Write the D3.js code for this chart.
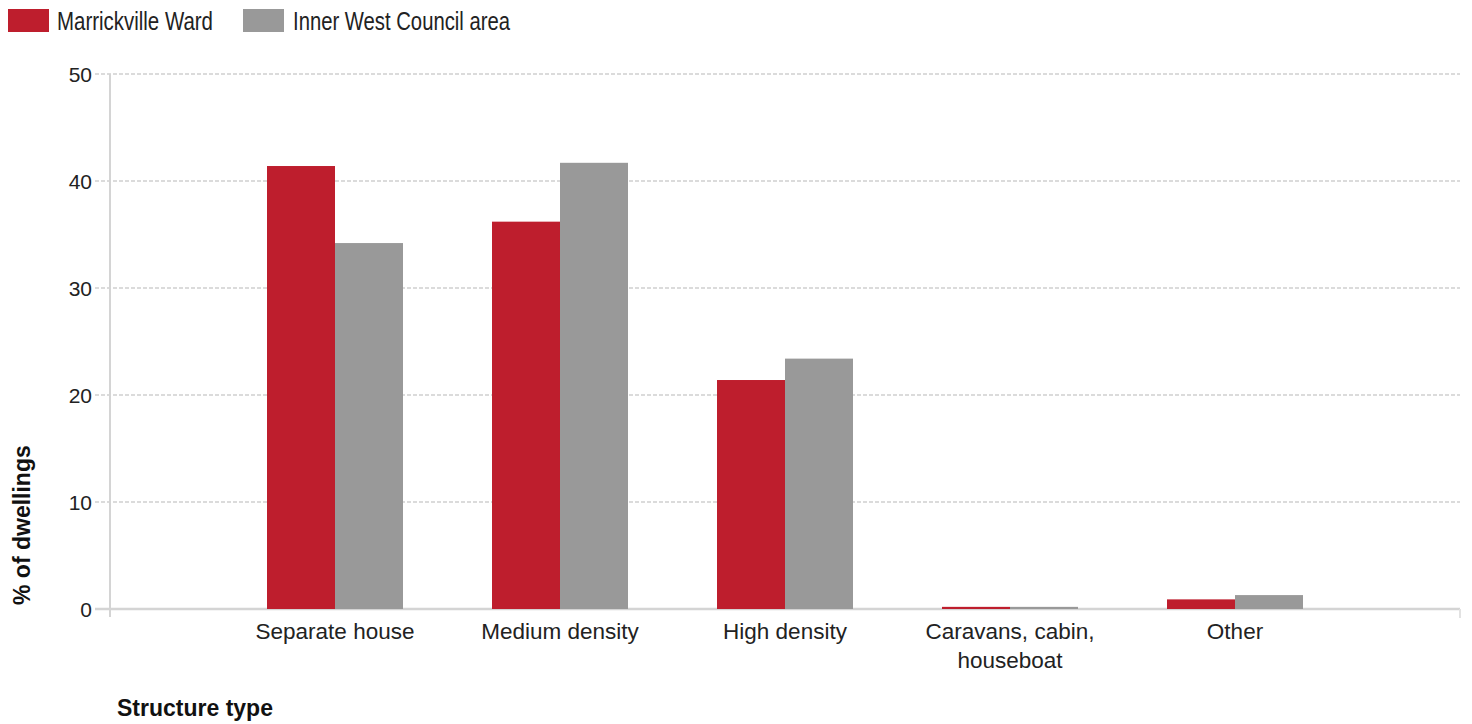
<!DOCTYPE html>
<html><head><meta charset="utf-8">
<script src="https://cdn.jsdelivr.net/npm/d3@7"></script>
<style>body{margin:0;background:#fff}svg{display:block;font-family:"Liberation Sans",Arial,sans-serif}</style>
</head><body><svg id="c" width="1472" height="724"></svg>
<script>
const categories = ["Separate house", "Medium density", "High density", "Caravans, cabin, houseboat", "Other"];
const seriesNames = ["Marrickville Ward", "Inner West Council area"];
const marrickville = [41.4, 36.2, 21.4, 0.2, 0.9];
const innerWest = [34.2, 41.7, 23.4, 0.2, 1.3];
const yTicks = [0, 10, 20, 30, 40, 50];
const colors = ["#be1e2d", "#999999"];

const svg = d3.select("#c");
const L = 110, R = 1460, T = 74, B = 609;
const x = d3.scalePoint().domain(categories).range([L, R]).padding(1);
const y = d3.scaleLinear().domain([0, 50]).range([B, T]);
const barW = 68;

// gridlines
svg.append("g").selectAll("line").data(yTicks.filter(d => d > 0)).join("line")
  .attr("x1", 95).attr("x2", R).attr("y1", d => y(d)).attr("y2", d => y(d))
  .attr("stroke", "#cfcfcf").attr("stroke-width", 1.5).attr("stroke-dasharray", "4,2");
// y axis line
svg.append("line").attr("x1", L).attr("x2", L).attr("y1", T).attr("y2", B + 8)
  .attr("stroke", "#d4d4d4").attr("stroke-width", 2);
// x axis baseline
svg.append("line").attr("x1", 95).attr("x2", R).attr("y1", B).attr("y2", B)
  .attr("stroke", "#d4d4d4").attr("stroke-width", 2.5);
svg.append("line").attr("x1", R).attr("x2", R).attr("y1", B).attr("y2", B + 9)
  .attr("stroke", "#e2e2e2").attr("stroke-width", 2);

// y tick labels
svg.append("g").selectAll("text").data(yTicks).join("text")
  .attr("x", 92).attr("y", d => y(d)).attr("dy", "0.36em").attr("text-anchor", "end")
  .attr("font-size", 21).attr("fill", "#222").text(d => d);

// bars
const data = [marrickville, innerWest];
data.forEach((vals, s) => {
  svg.append("g").selectAll("rect").data(categories).join("rect")
    .attr("x", c => x(c) + (s === 0 ? -barW : 0))
    .attr("width", barW)
    .attr("y", (c, i) => y(vals[i]))
    .attr("height", (c, i) => Math.max(0, y(0) - y(vals[i])))
    .attr("fill", colors[s]);
});

// x labels
const xl = svg.append("g").selectAll("text").data(categories).join("text")
  .attr("text-anchor", "middle").attr("font-size", 22.5).attr("fill", "#222");
xl.each(function(c) {
  const t = d3.select(this);
  const lines = c === "Caravans, cabin, houseboat" ? ["Caravans, cabin,", "houseboat"] : [c];
  lines.forEach((ln, k) => t.append("tspan").attr("x", x(c)).attr("y", 639 + k * 29).text(ln));
});

// axis titles
svg.append("text").attr("transform", "translate(30,605) rotate(-90)")
  .attr("font-size", 23).attr("font-weight", "bold").attr("fill", "#111").text("% of dwellings");
svg.append("text").attr("x", 117).attr("y", 716).attr("font-size", 23).attr("font-weight", "bold")
  .attr("fill", "#111").text("Structure type");

// legend
const leg = [{x: 8, tx: 57, len: 156}, {x: 243, tx: 293, len: 217}];
seriesNames.forEach((n, i) => {
  svg.append("rect").attr("x", leg[i].x).attr("y", 9).attr("width", 41).attr("height", 23).attr("fill", colors[i]);
  svg.append("text").attr("x", leg[i].tx).attr("y", 30).attr("font-size", 26).attr("fill", "#222")
    .attr("textLength", leg[i].len).attr("lengthAdjust", "spacingAndGlyphs").text(n);
});
</script></body></html>
